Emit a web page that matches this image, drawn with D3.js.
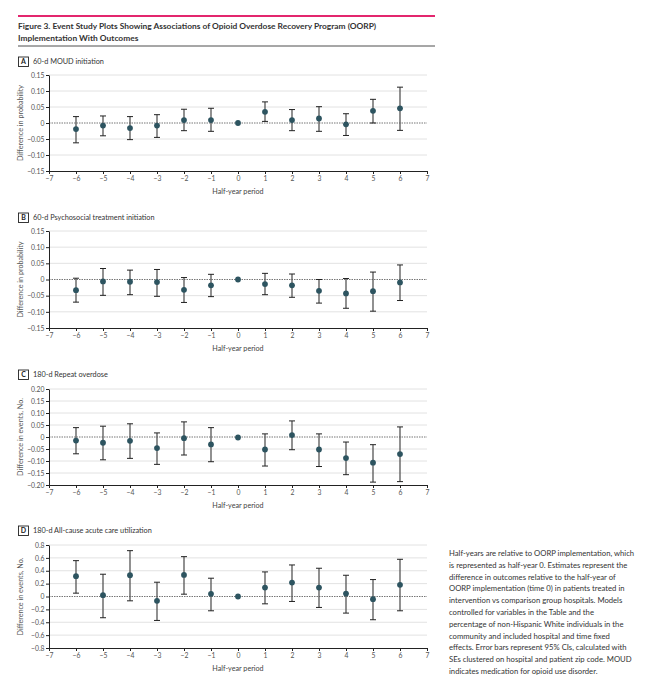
<!DOCTYPE html>
<html><head><meta charset="utf-8">
<script src="https://cdn.jsdelivr.net/npm/d3@7"></script>
<style>
body{margin:0;background:#fff;}
svg{display:block;font-family:Lato, "Open Sans", sans-serif;}
</style></head>
<body><svg id="c" width="650" height="691"></svg>
<script>
const periods = [-6,-5,-4,-3,-2,-1,0,1,2,3,4,5,6];
const xTicks = [-7,-6,-5,-4,-3,-2,-1,0,1,2,3,4,5,6,7];

const moudEst = [-0.019,-0.008,-0.016,-0.008,0.009,0.009,0,0.035,0.009,0.014,-0.004,0.038,0.046];
const moudLo  = [-0.062,-0.040,-0.052,-0.045,-0.024,-0.026,0,0.005,-0.024,-0.026,-0.039,0.000,-0.023];
const moudHi  = [0.020,0.022,0.020,0.026,0.043,0.046,0,0.066,0.042,0.051,0.029,0.074,0.112];

const psyEst = [-0.033,-0.006,-0.007,-0.008,-0.032,-0.018,0,-0.014,-0.018,-0.035,-0.043,-0.036,-0.009];
const psyLo  = [-0.070,-0.049,-0.047,-0.052,-0.071,-0.053,0,-0.047,-0.055,-0.073,-0.089,-0.098,-0.065];
const psyHi  = [0.004,0.034,0.029,0.031,0.006,0.016,0,0.019,0.017,0.000,0.003,0.023,0.045];

const odEst = [-0.015,-0.024,-0.016,-0.046,-0.005,-0.031,-0.002,-0.052,0.008,-0.052,-0.088,-0.107,-0.071];
const odLo  = [-0.070,-0.095,-0.089,-0.114,-0.075,-0.103,-0.002,-0.121,-0.053,-0.123,-0.157,-0.188,-0.186];
const odHi  = [0.039,0.045,0.055,0.017,0.063,0.039,-0.002,0.013,0.067,0.013,-0.021,-0.032,0.042];

const acuteEst = [0.315,0.021,0.330,-0.067,0.335,0.041,0,0.139,0.217,0.139,0.046,-0.041,0.181];
const acuteLo  = [0.052,-0.330,-0.067,-0.372,0.036,-0.222,0,-0.114,-0.077,-0.170,-0.258,-0.361,-0.222];
const acuteHi  = [0.557,0.346,0.712,0.222,0.619,0.284,0,0.382,0.490,0.439,0.330,0.263,0.578];

const ticksProb = [-0.15,-0.10,-0.05,0,0.05,0.10,0.15];
const ticksOD = [-0.20,-0.15,-0.10,-0.05,0,0.05,0.10,0.15,0.20];
const ticksAcute = [-0.8,-0.6,-0.4,-0.2,0,0.2,0.4,0.6,0.8];

const titleLines = ["Figure 3. Event Study Plots Showing Associations of Opioid Overdose Recovery Program (OORP)","Implementation With Outcomes"];
const captionLines = [
"Half-years are relative to OORP implementation, which",
"is represented as half-year 0. Estimates represent the",
"difference in outcomes relative to the half-year of",
"OORP implementation (time 0) in patients treated in",
"intervention vs comparison group hospitals. Models",
"controlled for variables in the Table and the",
"percentage of non-Hispanic White individuals in the",
"community and included hospital and time fixed",
"effects. Error bars represent 95% CIs, calculated with",
"SEs clustered on hospital and patient zip code. MOUD",
"indicates medication for opioid use disorder."];

const panels = [
 {letter:"A", title:"60-d MOUD initiation", ylab:"Difference in probability", est:moudEst, lo:moudLo, hi:moudHi, ticks:ticksProb, fmt:".2f", top:75, bottom:171, headY:61.5},
 {letter:"B", title:"60-d Psychosocial treatment initiation", ylab:"Difference in probability", est:psyEst, lo:psyLo, hi:psyHi, ticks:ticksProb, fmt:".2f", top:231, bottom:328, headY:217.5},
 {letter:"C", title:"180-d Repeat overdose", ylab:"Difference in events, No.", est:odEst, lo:odLo, hi:odHi, ticks:ticksOD, fmt:".2f", top:389, bottom:485, headY:374.5},
 {letter:"D", title:"180-d All-cause acute care utilization", ylab:"Difference in events, No.", est:acuteEst, lo:acuteLo, hi:acuteHi, ticks:ticksAcute, fmt:".1f", top:545, bottom:648, headY:530.5}
];

const svg = d3.select("#c");
const x = d3.scaleLinear().domain([-7,7]).range([49,427]);
const minus = s => s.replace("-", "\u2212");

// header
svg.append("line").attr("x1",18).attr("x2",435).attr("y1",16).attr("y2",16).attr("stroke","#e3266e").attr("stroke-width",1.8);
titleLines.forEach((t,i)=>svg.append("text").attr("x",18).attr("y",29+i*12).attr("font-size",8.4).attr("font-weight",700).attr("fill","#333").text(t));
svg.append("line").attr("x1",18).attr("x2",435).attr("y1",46).attr("y2",46).attr("stroke","#222").attr("stroke-width",0.8);

panels.forEach(p=>{
  const ext = d3.extent(p.ticks);
  const y = d3.scaleLinear().domain(ext).range([p.bottom,p.top]);
  const g = svg.append("g");
  // panel header
  g.append("rect").attr("x",18.5).attr("y",p.headY-4.5).attr("width",10).attr("height",9.5).attr("fill","none").attr("stroke","#222").attr("stroke-width",0.9);
  g.append("text").attr("x",23.5).attr("y",p.headY+2.6).attr("text-anchor","middle").attr("font-size",7).attr("font-weight",700).attr("fill","#222").text(p.letter);
  g.append("text").attr("x",33).attr("y",p.headY+2.6).attr("font-size",7.3).attr("fill","#333").text(p.title);
  // grid
  g.selectAll(".grid").data(p.ticks.filter(d=>d!==0&&d!==ext[0])).enter().append("line")
    .attr("x1",x(-7)).attr("x2",x(7)).attr("y1",d=>y(d)).attr("y2",d=>y(d)).attr("stroke","#e2e2e2").attr("stroke-width",1);
  // zero dotted
  g.append("line").attr("x1",x(-7)).attr("x2",x(7)).attr("y1",y(0)).attr("y2",y(0)).attr("stroke","#777").attr("stroke-width",1).attr("stroke-dasharray","1.5,1");
  // axes
  const ya = g.append("g").attr("transform",`translate(${x(-7)},0)`)
    .call(d3.axisLeft(y).tickValues(p.ticks).tickSize(3).tickSizeOuter(0).tickFormat(d=>d===0?"0":minus(d3.format(p.fmt)(d))));
  const xa = g.append("g").attr("transform",`translate(0,${p.bottom})`)
    .call(d3.axisBottom(x).tickValues(xTicks).tickSize(3).tickSizeOuter(0).tickFormat(d=>minus(String(d))));
  [ya,xa].forEach(a=>{
    a.select(".domain").attr("stroke","#222").attr("stroke-width",1);
    a.selectAll(".tick line").attr("stroke","#222");
    a.selectAll("text").attr("font-size",6.8).attr("fill","#555").attr("font-family","Lato, sans-serif");
  });
  ya.selectAll("text").attr("x",-4.5);
  xa.selectAll("text").attr("y",5);
  // axis labels
  g.append("text").attr("x",238).attr("y",p.bottom+23).attr("text-anchor","middle").attr("font-size",7.2).attr("fill","#444").text("Half-year period");
  g.append("text").attr("transform",`translate(22.5,${(p.top+p.bottom)/2}) rotate(-90)`).attr("text-anchor","middle").attr("font-size",7.2).attr("fill","#555").text(p.ylab);
  // error bars
  const rows = periods.map((t,i)=>({t, e:p.est[i], lo:p.lo[i], hi:p.hi[i]}));
  const eb = g.selectAll(".eb").data(rows.filter(r=>r.hi!==r.lo)).enter().append("g");
  eb.append("line").attr("x1",d=>x(d.t)).attr("x2",d=>x(d.t)).attr("y1",d=>y(d.lo)).attr("y2",d=>y(d.hi)).attr("stroke","#555").attr("stroke-width",1.3);
  ["lo","hi"].forEach(k=>eb.append("line").attr("x1",d=>x(d.t)-3).attr("x2",d=>x(d.t)+3).attr("y1",d=>y(d[k])).attr("y2",d=>y(d[k])).attr("stroke","#222").attr("stroke-width",1));
  g.selectAll(".pt").data(rows).enter().append("circle").attr("cx",d=>x(d.t)).attr("cy",d=>y(d.e)).attr("r",2.9).attr("fill","#2d5460");
});

// caption
captionLines.forEach((t,i)=>svg.append("text").attr("x",449).attr("y",556+i*11.8).attr("font-size",7.7).attr("fill","#333").text(t));
</script></body></html>
